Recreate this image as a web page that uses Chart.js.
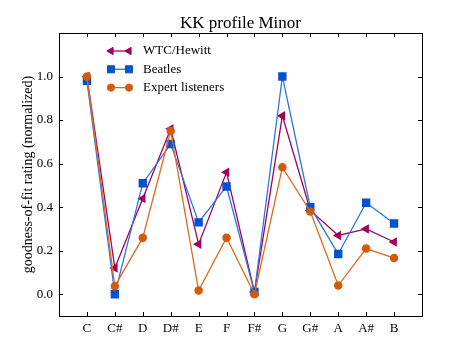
<!DOCTYPE html>
<html>
<head>
<meta charset="utf-8">
<script src="https://cdn.jsdelivr.net/npm/chart.js@4"></script>
<style>
  html, body { margin: 0; padding: 0; background: #fff; }
  #wrap { width: 469px; height: 352px; }
</style>
</head>
<body>
<div id="wrap"><canvas id="chart" width="469" height="352"></canvas></div>
<script>
// ── Data ────────────────────────────────────────────────────────────────
const notes      = ['C', 'C#', 'D', 'D#', 'E', 'F', 'F#', 'G', 'G#', 'A', 'A#', 'B'];
const wtcHewitt  = [1.00, 0.12, 0.44, 0.76, 0.23, 0.56, 0.01, 0.82, 0.385, 0.27, 0.30, 0.24];
const beatles    = [0.98, 0.00, 0.51, 0.69, 0.33, 0.495, 0.01, 1.00, 0.40, 0.185, 0.42, 0.325];
const experts    = [1.00, 0.037, 0.26, 0.75, 0.017, 0.26, 0.00, 0.583, 0.38, 0.04, 0.21, 0.166];
const yTicks     = [0.0, 0.2, 0.4, 0.6, 0.8, 1.0];

const FONT = "'Liberation Serif', 'DejaVu Serif', serif";
const toPoints = arr => arr.map((v, i) => ({ x: i, y: v }));

// ── Frame, inward ticks, title and legend ───────────────────────────────
const framePlugin = {
    id: 'frame',
    afterDraw(chart) {
        const { ctx, chartArea: a, scales } = chart;
        const t = 4;
        ctx.save();
        ctx.strokeStyle = '#000';
        ctx.lineWidth = 1;
        ctx.beginPath();
        notes.forEach((_, i) => {
            const x = Math.round(scales.x.getPixelForValue(i)) + 0.5;
            ctx.moveTo(x, a.bottom); ctx.lineTo(x, a.bottom - t);
            ctx.moveTo(x, a.top);    ctx.lineTo(x, a.top + t);
        });
        yTicks.forEach(v => {
            const y = Math.round(scales.y.getPixelForValue(v)) + 0.5;
            ctx.moveTo(a.left, y);  ctx.lineTo(a.left + t, y);
            ctx.moveTo(a.right, y); ctx.lineTo(a.right - t, y);
        });
        ctx.stroke();
        ctx.strokeRect(Math.round(a.left) + 0.5, Math.round(a.top) + 0.5,
                       Math.round(a.right - a.left), Math.round(a.bottom - a.top));

        // title
        ctx.fillStyle = '#000';
        ctx.font = `17px ${FONT}`;
        ctx.textAlign = 'center';
        ctx.textBaseline = 'alphabetic';
        ctx.fillText('KK profile Minor', (a.left + a.right) / 2, 28);

        // legend: two markers joined by a line, like matplotlib
        ctx.font = `13px ${FONT}`;
        ctx.textAlign = 'left';
        ctx.textBaseline = 'middle';
        chart.data.datasets.forEach((ds, i) => {
            const y = 51 + i * 18.3;
            const x1 = 111, x2 = 129;
            ctx.strokeStyle = ds.borderColor;
            ctx.lineWidth = ds.borderWidth;
            ctx.beginPath(); ctx.moveTo(x1, y); ctx.lineTo(x2, y); ctx.stroke();
            ctx.fillStyle = ds.pointBackgroundColor;
            ctx.strokeStyle = ds.pointBorderColor;
            ctx.lineWidth = 1;
            [x1, x2].forEach(x => {
                Chart.helpers.drawPoint(ctx, {
                    pointStyle: ds.pointStyle,
                    rotation: ds.pointRotation || 0,
                    radius: ds.pointRadius,
                    borderWidth: 1
                }, x, y);
            });
            ctx.fillStyle = '#000';
            ctx.fillText(ds.label, 143, y);
        });
        ctx.restore();
    }
};

const ctx = document.getElementById('chart');
const chart = new Chart(ctx, {
    type: 'line',
    data: {
        datasets: [
            {
                label: 'WTC/Hewitt',
                data: toPoints(wtcHewitt),
                borderColor: '#a3005c',
                pointBackgroundColor: '#a3005c',
                pointBorderColor: '#a3005c',
                borderWidth: 1.3,
                pointStyle: 'triangle',
                pointRotation: -90,
                pointRadius: 4.2,
                order: 2
            },
            {
                label: 'Beatles',
                data: toPoints(beatles),
                borderColor: '#2f74e0',
                pointBackgroundColor: '#0053d0',
                pointBorderColor: '#0053d0',
                borderWidth: 1.3,
                pointStyle: 'rect',
                pointRadius: 5,
                order: 1
            },
            {
                label: 'Expert listeners',
                data: toPoints(experts),
                borderColor: '#df6a1c',
                pointBackgroundColor: '#d45a08',
                pointBorderColor: '#d45a08',
                borderWidth: 1.3,
                pointStyle: 'circle',
                pointRadius: 3.6,
                order: 0
            }
        ]
    },
    options: {
        responsive: false,
        animation: false,
        layout: { padding: { top: 33, right: 47, left: 0, bottom: 0 } },
        plugins: {
            legend: { display: false },
            title: { display: false },
            tooltip: { enabled: false }
        },
        elements: { line: { tension: 0 } },
        scales: {
            x: {
                type: 'linear',
                min: -1,
                max: 12,
                afterBuildTicks: s => { s.ticks = notes.map((_, i) => ({ value: i })); },
                afterFit: s => { s.height = 36; },
                grid: { display: false, drawTicks: false },
                border: { display: false },
                ticks: {
                    autoSkip: false,
                    maxRotation: 0,
                    padding: 5,
                    color: '#000',
                    font: { family: FONT, size: 13 },
                    callback: v => notes[v] ?? ''
                }
            },
            y: {
                min: -0.1,
                max: 1.2,
                afterBuildTicks: s => { s.ticks = yTicks.map(v => ({ value: v })); },
                afterFit: s => { s.width = 59; },
                grid: { display: false, drawTicks: false },
                border: { display: false },
                title: {
                    display: true,
                    text: 'goodness-of-fit rating (normalized)',
                    color: '#000',
                    font: { family: FONT, size: 14 },
                    padding: { top: 20, bottom: 0 }
                },
                ticks: {
                    padding: 6,
                    color: '#000',
                    font: { family: FONT, size: 13 },
                    callback: v => v.toFixed(1)
                }
            }
        }
    },
    plugins: [framePlugin]
});
</script>
</body>
</html>
